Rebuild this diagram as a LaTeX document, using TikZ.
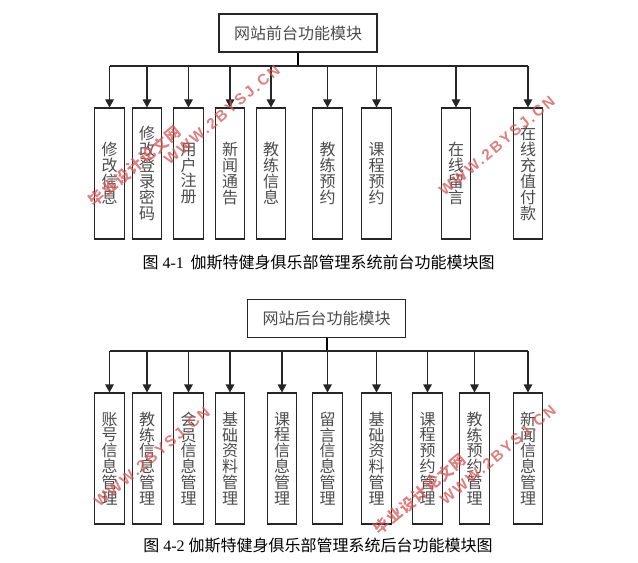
\documentclass[tikz,border=0pt]{standalone}
\usepackage{fontspec}
\setmainfont{Liberation Serif}
\newfontfamily\cjk{Noto Sans CJK SC}
\newfontfamily\wmlatin[LetterSpace=14]{Liberation Sans}
\newfontfamily\wmcjk[LetterSpace=8]{Noto Sans CJK SC}
\usetikzlibrary{arrows.meta}
\definecolor{wm}{RGB}{210,85,85}
\tikzset{
  x=0.75pt,y=-0.75pt,
  rootbox/.style={draw=black!85,line width=0.8pt,fill=white,inner sep=0pt,minimum width=118.5pt,minimum height=28.5pt,font=\cjk\fontsize{12}{12}\selectfont,text=black!70},
  modbox/.style={draw=black!85,line width=0.8pt,fill=white,inner sep=0pt,minimum width=22.3pt,minimum height=98.25pt,align=center,font=\cjk\fontsize{12}{11.9}\selectfont,text=black!70},
  busline/.style={draw=black!85,line width=1pt},
  stem/.style={draw=black,line width=1.5pt},
  arrowline/.style={draw=black!85,line width=0.8pt,-{Triangle[length=6pt,width=6.4pt]}},
  capt/.style={inner sep=0pt,font=\fontsize{12}{14}\selectfont},
  wmlat/.style={inner sep=0pt,rotate=40,text=wm,opacity=.75,font=\wmlatin\bfseries\fontsize{11.5}{12}\selectfont},
  wmzh/.style={inner sep=0pt,rotate=40,text=wm,opacity=.75,font=\wmcjk\bfseries\fontsize{11.5}{12}\selectfont},
}
\begin{document}
\begin{tikzpicture}
\useasboundingbox (0,0) rectangle (638,563);
% top
\node[rootbox] (r1) at (298,33) {网站前台功能模块};
\foreach \n/\x/\t in {a1/109.5/修\\改\\信\\息,a2/147/修\\改\\登\\录\\密\\码,a3/188.5/用\\户\\注\\册,a4/230/新\\闻\\通\\告,a5/271/教\\练\\信\\息,a6/327.5/教\\练\\预\\约,a7/376.5/课\\程\\预\\约,a8/456/在\\线\\留\\言,a9/528/在\\线\\充\\值\\付\\款}
  \node[modbox] (\n) at (\x,173.5) {\t};
\coordinate (b1) at (298,66);
\draw[stem] (r1.south) -- (b1);
\draw[busline] (b1 -| a1.north) -- (b1 -| a9.north);
\foreach \n in {a1,a2,a3,a4,a5,a6,a7,a8,a9}
  \draw[arrowline] (b1 -| \n.north) -- (\n.north);
\node[capt] (c1) at (318.5,262) {{\cjk 图} 4-1\, {\cjk 伽斯特健身俱乐部管理系统前台功能模块图}};
% bottom
\node[rootbox] (r2) at (326.5,318.5) {网站后台功能模块};
\foreach \n/\x/\t in {d1/109.5/账\\号\\信\\息\\管\\理,d2/147/教\\练\\信\\息\\管\\理,d3/188.5/会\\员\\信\\息\\管\\理,d4/230/基\\础\\资\\料\\管\\理,d5/282/课\\程\\信\\息\\管\\理,d6/327.5/留\\言\\信\\息\\管\\理,d7/376.5/基\\础\\资\\料\\管\\理,d8/427.5/课\\程\\预\\约\\管\\理,d9/474.5/教\\练\\预\\约\\管\\理,d10/528/新\\闻\\信\\息\\管\\理}
  \node[modbox] (\n) at (\x,458.5) {\t};
\coordinate (b2) at (326.5,351);
\draw[stem] (r2.south) -- (b2);
\draw[busline] (b2 -| d1.north) -- (b2 -| d10.north);
\foreach \n in {d1,d2,d3,d4,d5,d6,d7,d8,d9,d10}
  \draw[arrowline] (b2 -| \n.north) -- (\n.north);
\node[capt] (c2) at (318,546) {{\cjk 图} 4-2 {\cjk 伽斯特健身俱乐部管理系统后台功能模块图}};
% watermarks
\node[wmzh] (w1) at (135,166) {毕业设计论文网};
\node[wmzh] (w2) at (420,494) {毕业设计论文网};
\node[wmlat] (w3) at (222,115) {WWW.2BYSJ.CN};
\node[wmlat] (w4) at (497,146) {WWW.2BYSJ.CN};
\node[wmlat] (w5) at (152,457) {WWW.2BYSJ.CN};
\node[wmlat] (w6) at (498,455) {WWW.2BYSJ.CN};
\end{tikzpicture}
\end{document}
